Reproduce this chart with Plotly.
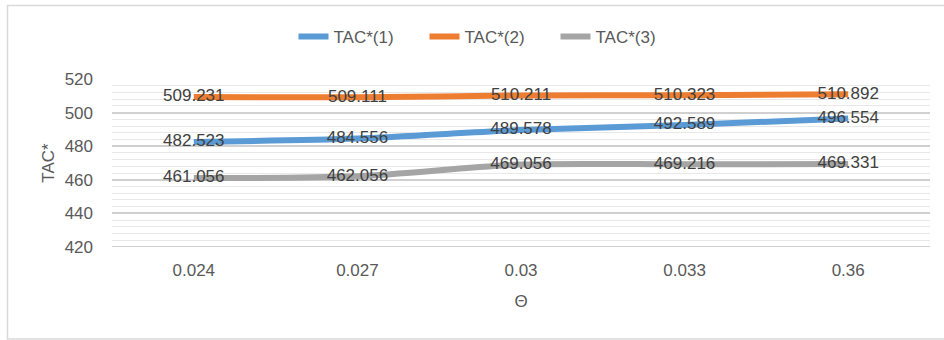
import plotly.graph_objects as go

categories = ["0.024", "0.027", "0.03", "0.033", "0.36"]
tac1 = [482.523, 484.556, 489.578, 492.589, 496.554]
tac2 = [509.231, 509.111, 510.211, 510.323, 510.892]
tac3 = [461.056, 462.056, 469.056, 469.216, 469.331]
series_names = ["TAC*(1)", "TAC*(2)", "TAC*(3)"]
colors = ["#5B9BD5", "#ED7D31", "#A5A5A5"]

FONT = "Liberation Sans"
W, H = 944, 340
L, R, T, B = 112, 14, 79, 93
pw, ph = W - L - R, H - T - B

fig = go.Figure()
for name, vals, col in zip(series_names, [tac1, tac2, tac3], colors):
    fig.add_trace(go.Scatter(
        x=categories, y=vals, name=name, mode="lines+text",
        line=dict(color=col, width=6, shape="spline", smoothing=0.8),
        text=[f"{v:.3f}" for v in vals], textposition="middle center",
        textfont=dict(family=FONT, size=17, color="#404040"),
        cliponaxis=False,
    ))

def px_x(px):
    return (px - L) / pw

def px_y(py):
    return (H - B - py) / ph

fig.add_shape(type="rect", xref="paper", yref="paper",
              x0=px_x(7.5), x1=px_x(960), y0=px_y(339), y1=px_y(5.5),
              line=dict(color="#d9d9d9", width=1.5), fillcolor="rgba(0,0,0,0)", layer="below")

fig.update_layout(
    width=W, height=H,
    margin=dict(l=L, r=R, t=T, b=B, pad=0),
    paper_bgcolor="white", plot_bgcolor="white",
    font=dict(family=FONT, size=17, color="#595959"),
    showlegend=True,
    legend=dict(orientation="h", xref="container", yref="container",
                x=490 / W, y=1 - 37 / H, xanchor="center", yanchor="middle",
                font=dict(family=FONT, size=17, color="#595959"),
                entrywidth=86, entrywidthmode="pixels", itemwidth=30,
                traceorder="normal"),
    xaxis=dict(type="category", range=[-0.5, 4.5], showgrid=False,
               showline=False, ticks="", ticklabelstandoff=11,
               title=dict(text="Θ", standoff=16, font=dict(family=FONT, size=17, color="#595959")),
               tickfont=dict(family=FONT, size=17, color="#595959"), zeroline=False),
    yaxis=dict(range=[420, 520], dtick=20, tick0=420, showgrid=True,
               gridcolor="#d0d0d0", gridwidth=1.5,
               minor=dict(dtick=4, showgrid=True, gridcolor="#e8e8e8", gridwidth=1.2),
               showline=False, ticks="", zeroline=False, ticklabelstandoff=18,
               title=dict(text="TAC*", standoff=5, font=dict(family=FONT, size=17, color="#595959")),
               tickfont=dict(family=FONT, size=17, color="#595959")),
)
fig.add_shape(type="line", xref="paper", yref="y", x0=0, x1=1, y0=420, y1=420,
              line=dict(color="#bfbfbf", width=1.5), layer="below")

fig.write_html("out.html", config={"displayModeBar": False},
               post_script="document.body.style.margin='0px';document.body.style.padding='0px';")
